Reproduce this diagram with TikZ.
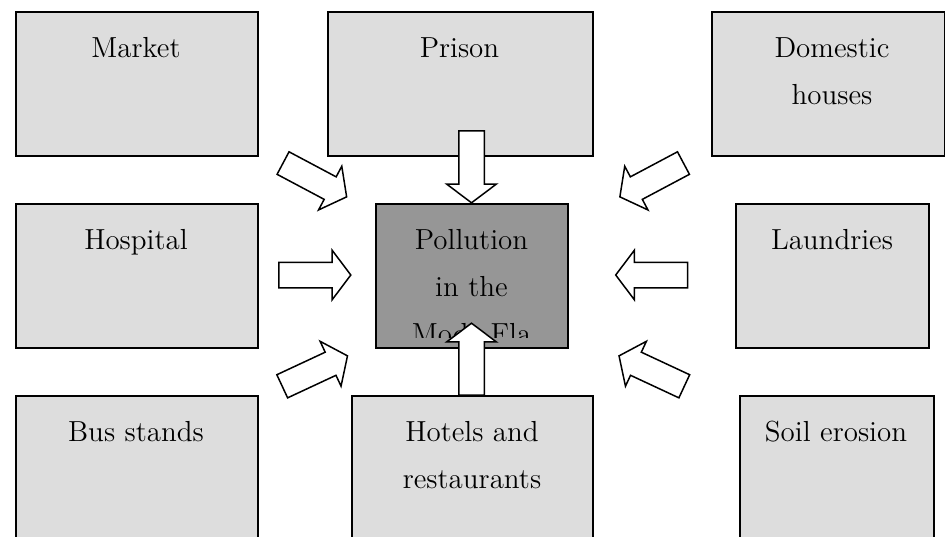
\documentclass[tikz,border=0pt]{standalone}
\usetikzlibrary{shapes.arrows}
\definecolor{boxgray}{RGB}{221,221,221}
\definecolor{centergray}{RGB}{150,150,150}
\begin{document}
\begin{tikzpicture}[x=0.5pt,y=-0.5pt,
  srcbox/.style={draw=black, line width=0.75pt, fill=boxgray, anchor=north west, inner sep=0pt, minimum height=72pt},
  midbox/.style={srcbox, fill=centergray},
  boxtext/.style={anchor=north, inner sep=0pt, align=center, font=\fontsize{14.5}{23.5}\selectfont},
  blockarr/.style={single arrow, draw=black, fill=white, line width=0.75pt, inner xsep=0pt, inner ysep=6pt,
    minimum height=36pt, minimum width=24pt, single arrow head extend=6pt, single arrow tip angle=106}]
\useasboundingbox (0,0) rectangle (945,536);
\clip (0,0) rectangle (945,536);
% boxes
\node[srcbox, minimum width=121pt] (market) at (15,11) {};
\node[srcbox, minimum width=132.5pt] (prison) at (327,11) {};
\node[srcbox, minimum width=116.5pt] (domestic) at (711,11) {};
\node[srcbox, minimum width=121pt] (hospital) at (15,203) {};
\node[midbox, minimum width=96pt] (pollution) at (375,203) {};
\node[srcbox, minimum width=96.5pt] (laundries) at (735,203) {};
\node[srcbox, minimum width=121pt, minimum height=85pt] (bus) at (15,395) {};
\node[srcbox, minimum width=120.5pt, minimum height=85pt] (hotels) at (351,395) {};
\node[srcbox, minimum width=97pt, minimum height=85pt] (soil) at (739,395) {};
% texts
\node[boxtext] (tmarket) at (136,37) {Market};
\node[boxtext] (tprison) at (459.5,37) {Prison};
\node[boxtext] (tdomestic) at (832,37) {Domestic\\houses};
\node[boxtext] (thospital) at (136,229) {Hospital};
\node[boxtext] (tlaundries) at (832,229) {Laundries};
\begin{scope}
\clip (375,203) rectangle (567,337);
\node[boxtext] (tpollution) at (471.5,229) {Pollution\\in the\\Mode Fla};
\end{scope}
\node[boxtext] (tbus) at (136,421) {Bus stands};
\node[boxtext] (thotels) at (472,421) {Hotels and\\restaurants};
\node[boxtext] (tsoil) at (836,421) {Soil erosion};
% arrows
\node[blockarr, rotate=-28] (amarket) at (310.6,177.7) {};
\node[blockarr, rotate=-90] (aprison) at (471.5,162) {};
\node[blockarr, rotate=-152] (adomestic) at (655.9,177.7) {};
\node[blockarr, rotate=0] (ahospital) at (310,275) {};
\node[blockarr, rotate=180] (alaundries) at (656.5,275) {};
\node[blockarr, rotate=25] (abus) at (310.5,373.1) {};
\node[blockarr, rotate=90] (ahotels) at (471.5,364) {};
\node[blockarr, rotate=155] (asoil) at (656,373.1) {};
\end{tikzpicture}
\end{document}
